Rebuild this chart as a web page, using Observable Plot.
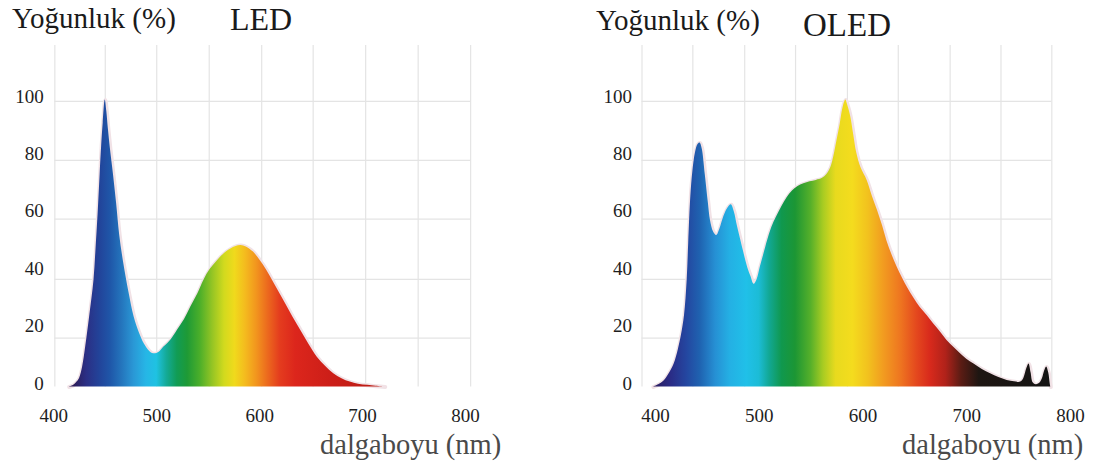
<!DOCTYPE html>
<html>
<head>
<meta charset="utf-8">
<script src="https://cdn.jsdelivr.net/npm/d3@7"></script>
<script src="https://cdn.jsdelivr.net/npm/@observablehq/plot@0.6"></script>
<style>
  html, body { margin: 0; padding: 0; background: #fff; }
  #page { position: relative; width: 1102px; height: 473px; overflow: hidden; font-family: "Liberation Serif", "Times New Roman", serif; }
  .t { position: absolute; white-space: nowrap; line-height: 1; color: #1a1a1a; }
  .xl { position: absolute; white-space: nowrap; line-height: 1; color: #4a4a4a; font-size: 28.5px; }
  .panel { position: absolute; top: 40px; }
</style>
</head>
<body>
<div id="page">
  <div class="t" style="left:12px; top:4px; font-size:29px;">Yoğunluk (%)</div>
  <div class="t" style="left:230px; top:3px; font-size:32px;">LED</div>
  <div class="t" style="left:596px; top:6px; font-size:29px;">Yoğunluk (%)</div>
  <div class="t" style="left:803px; top:9px; font-size:33px;">OLED</div>
  <div id="left" class="panel" style="left:0px;"></div>
  <div id="right" class="panel" style="left:550px;"></div>
  <div class="xl" style="left:320px; top:431px;">dalgaboyu (nm)</div>
  <div class="xl" style="left:902px; top:431px;">dalgaboyu (nm)</div>
</div>
<script>
// ---- data (wavelength nm, relative intensity %) ----
const xTicks = [400, 500, 600, 700, 800];
const yTicks = [0, 20, 40, 60, 80, 100];

const ledSpectrum = [
  [415,0],[419,0.5],[422,1.5],[425,3],[428,7],[431,14],[435,25],[439,37],[441,48],[443,60],
  [445,74],[446.5,84],[448,92],[450,100],[451.5,96],[453,90],[455,83],[458,74],[461,64],[464,53],
  [468,43],[473,33],[478,24.5],[483,19],[488,15],[493,12.5],[497,11.6],[502,12],[507,13.9],[514,16.5],
  [520,19.7],[527,23.5],[533,27.8],[540,32.5],[546,37.3],[552,41],[559,44],[565,46.3],[572,48.1],[577,49],
  [582,49.3],[587,48.8],[594,47],[600,44.3],[607,40.6],[615,35.5],[624,29.8],[632,24.6],[640,19.7],[648,14.8],
  [656,10.4],[664,7.2],[672,4.6],[680,2.9],[688,1.7],[696,1],[705,0.6],[713,0.3],[722,0]
];

const oledSpectrum = [
  [398,0],[403,0.8],[408,2],[413,4.5],[418,8],[422,13],[425,18],[428,25],[430.5,37],[432,50],
  [434,66],[436,75],[438.5,81.5],[441,84.5],[443,85],[445,83],[448,74],[451,64],[453,58],[456,54],
  [459,52.8],[462,55],[466,59.5],[470,62.5],[473,63.5],[476,61],[479,56],[482,51.5],[485,47],[489,41.5],
  [492,38.5],[495,35.8],[498,37.5],[501,41.7],[505,47],[508,51],[512,55.5],[517,59.5],[522,63],[527,66],
  [532,68.3],[537,69.8],[543,70.8],[549,71.5],[555,72],[561,72.7],[565,74],[569,76.5],[572,80.5],[575,86],
  [578,91.5],[580,96],[582,99],[583.5,100],[585,98.5],[588,94.5],[591,88],[594,81.5],[598,76.5],[604,72],
  [609,66.5],[614,61.5],[619,56],[623,51],[628,46],[633,41.7],[638,38],[643,34.6],[649,31],[655,27.8],
  [662,24.8],[668,22],[675,19],[681,16.2],[688,13.7],[694,11.6],[700,9.7],[707,8],[715,6.1],[723,4.6],
  [731,3.3],[739,2.3],[746,1.8],[752,1.7],[755,3],[758,6.5],[760,8],[762,5],[764,1.5],[767,0.8],
  [770,1.2],[773,3],[775,5.5],[777,7],[779,5],[780.5,1],[781,0]
];

// decorative grid positions (data units)
const ledGridX = [401, 450, 500, 551, 602, 652, 703, 754, 805];
const oledGridX = [387, 436, 486, 535, 585, 634, 684, 733, 782];
const gridY = [17, 37.5, 58.5, 79, 99.5];

// spectral colour ramps (wavelength -> colour)
const ledColors = [
  [420,"#2c1d5a"],[432,"#2b2f85"],[445,"#22449a"],[455,"#1f56a8"],[466,"#2474bc"],[478,"#2a98d6"],
  [490,"#26b6e6"],[500,"#1fc2e2"],[510,"#14aa96"],[520,"#119c55"],[530,"#1e9a36"],[542,"#4aae2a"],
  [555,"#98c624"],[566,"#d2da1e"],[576,"#f0da1c"],[586,"#f4bc1e"],[597,"#f2961e"],[608,"#ec6a1e"],
  [620,"#e43c1e"],[635,"#dc261c"],[670,"#cc1e18"],[720,"#b81c14"]
];
const oledColors = [
  [398,"#2a1c5c"],[415,"#2a2c86"],[430,"#2446a0"],[443,"#1f62b0"],[458,"#2690d4"],[472,"#24b0e4"],
  [488,"#20c0e8"],[500,"#1cbcd6"],[510,"#12a894"],[522,"#10984e"],[535,"#1c9634"],[550,"#56b02a"],
  [562,"#a8cc22"],[574,"#e8da1e"],[590,"#f4dc1e"],[605,"#f2c21e"],[620,"#f29c20"],[637,"#ee7420"],
  [652,"#e4481e"],[665,"#d82a1c"],[680,"#b0221a"],[695,"#5a1c14"],[712,"#1e1612"],[781,"#141414"]
];

// ---- rendering ----
function gradientMark(id, stops) {
  return (index, scales, values, dims) => {
    const ns = "http://www.w3.org/2000/svg";
    const defs = document.createElementNS(ns, "defs");
    const lg = document.createElementNS(ns, "linearGradient");
    lg.setAttribute("id", id);
    lg.setAttribute("gradientUnits", "userSpaceOnUse");
    const w0 = stops[0][0], w1 = stops[stops.length - 1][0];
    let sx;
    if (scales && typeof scales.x === "function") sx = scales.x;
    else {
      const [d0, d1] = dims.__domain;
      sx = v => dims.marginLeft + (v - d0) / (d1 - d0) * (dims.width - dims.marginLeft - dims.marginRight);
    }
    lg.setAttribute("x1", sx(w0));
    lg.setAttribute("x2", sx(w1));
    lg.setAttribute("y1", 0);
    lg.setAttribute("y2", 0);
    for (const [w, c] of stops) {
      const s = document.createElementNS(ns, "stop");
      s.setAttribute("offset", (w - w0) / (w1 - w0));
      s.setAttribute("stop-color", c);
      lg.appendChild(s);
    }
    defs.appendChild(lg);
    return defs;
  };
}

function panel({spectrum, colors, gridX, id, xDomain, width, marginLeft, marginRight}) {
  const data = spectrum.map(([wl, v]) => ({wl, v}));
  const g0 = gridX[0], g1 = gridX[gridX.length - 1];
  return Plot.plot({
    width,
    height: 388,
    marginLeft,
    marginRight,
    marginTop: 5,
    marginBottom: 41.5,
    style: {background: "transparent", overflow: "visible", fontFamily: "'Liberation Serif', 'Times New Roman', serif"},
    x: {domain: xDomain, axis: null},
    y: {domain: [0, 119], axis: null},
    marks: [
      gradientMark(id, colors),
      Plot.ruleX(gridX, {x: d => d, y1: 0, y2: 119, stroke: "#e4e4e4", strokeWidth: 1.2}),
      Plot.ruleY(gridY, {y: d => d, x1: g0, x2: g1, stroke: "#e4e4e4", strokeWidth: 1.2}),
      Plot.lineY(data, {x: "wl", y: "v", curve: "catmull-rom", stroke: "#f1e2e6", strokeWidth: 4}),
      Plot.areaY(data, {x: "wl", y: "v", curve: "catmull-rom", fill: `url(#${id})`}),
      Plot.text(xTicks, {x: d => d, y: 0, dy: 28.5, text: d => String(d), fontSize: 19, fill: "#1e1e1e"}),
      Plot.text(yTicks, {x: xDomain[0], y: d => d, dx: -10, dy: -3.5, text: d => String(d), textAnchor: "end", fontSize: 19, fill: "#1e1e1e"})
    ]
  });
}

document.getElementById("left").appendChild(panel({
  spectrum: ledSpectrum, colors: ledColors, gridX: ledGridX, id: "gradLED",
  xDomain: [400, 800], width: 550, marginLeft: 53.3, marginRight: 85
}));
document.getElementById("right").appendChild(panel({
  spectrum: oledSpectrum, colors: oledColors, gridX: oledGridX, id: "gradOLED",
  xDomain: [387, 800], width: 552, marginLeft: 91.5, marginRight: 32
}));
</script>
</body>
</html>
